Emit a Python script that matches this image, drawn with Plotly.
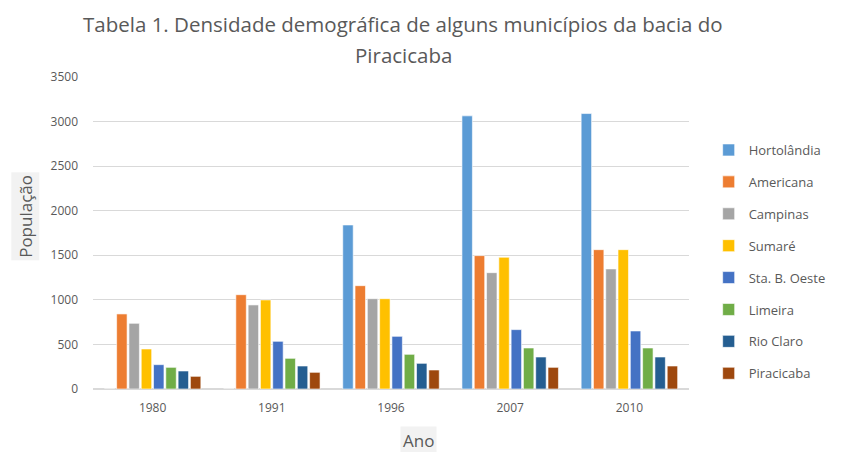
import plotly.graph_objects as go

anos = ["1980", "1991", "1996", "2007", "2010"]
municipios = ["Hortolândia", "Americana", "Campinas", "Sumaré", "Sta. B. Oeste", "Limeira", "Rio Claro", "Piracicaba"]
hortolandia = [0, 0, 1840, 3064, 3090]
americana = [842, 1058, 1159, 1496, 1563]
campinas = [737, 943, 1013, 1305, 1347]
sumare = [449, 999, 1013, 1478, 1563]
sta_b_oeste = [273, 535, 591, 666, 651]
limeira = [243, 344, 389, 460, 460]
rio_claro = [202, 258, 288, 359, 359]
piracicaba = [142, 187, 213, 243, 258]
series = [hortolandia, americana, campinas, sumare, sta_b_oeste, limeira, rio_claro, piracicaba]
cores = ["#5B9BD5", "#ED7D31", "#A5A5A5", "#FFC000", "#4472C4", "#70AD47", "#255E91", "#9E480E"]

FONT = "Open Sans"
GREY = "#595959"
titulo_l1 = "Tabela 1. Densidade demográfica de alguns municípios da bacia do"
titulo_l2 = "Piracicaba"

fig = go.Figure()
for nome, vals, cor in zip(municipios, series, cores):
    fig.add_trace(go.Bar(
        name=nome, x=anos, y=vals, legendgroup=nome,
        marker=dict(color=cor, line=dict(color="white", width=0.6)),
    ))

def py(pix):
    return (389 - pix) / 312

fig.update_layout(
    width=843, height=452,
    paper_bgcolor="white", plot_bgcolor="white",
    margin=dict(l=93, r=151, t=77, b=63),
    barmode="group", bargap=0.175, bargroupgap=0.15,
    font=dict(family=FONT, color=GREY, size=12),
    xaxis=dict(type="category", showgrid=False, showline=True, linecolor="#d9d9d9",
               ticks="", ticklabelstandoff=8, tickfont=dict(size=12, color=GREY)),
    yaxis=dict(range=[0, 3500], dtick=500, showgrid=True, gridcolor="#d9d9d9",
               zeroline=True, zerolinecolor="#d9d9d9", ticks="", ticklabelstandoff=14,
               tickfont=dict(size=12, color=GREY)),
    legend=dict(x=1.033, xanchor="left", y=0.407, yanchor="middle",
                font=dict(size=13, color=GREY), tracegroupgap=12),
    annotations=[
        dict(text=titulo_l1, xref="paper", yref="paper", x=(405 - 93) / 599, y=py(24),
             xanchor="center", yanchor="middle", showarrow=False,
             font=dict(size=20.5, color=GREY, family=FONT)),
        dict(text=titulo_l2, xref="paper", yref="paper", x=(405 - 93) / 599, y=py(55),
             xanchor="center", yanchor="middle", showarrow=False,
             font=dict(size=20.5, color=GREY, family=FONT)),
        dict(text="População", xref="paper", yref="paper", x=(24.5 - 93) / 599, y=py(216),
             textangle=-90, showarrow=False, bgcolor="#f2f2f2",
             font=dict(size=17, color=GREY, family=FONT), borderpad=2,
             xanchor="center", yanchor="middle"),
        dict(text="Ano", xref="paper", yref="paper", x=(420 - 93) / 599, y=py(440),
             showarrow=False, bgcolor="#f2f2f2", xanchor="center", yanchor="middle",
             font=dict(size=17, color=GREY, family=FONT), borderpad=2),
    ],
)

fig.write_html("out.html", config={"displayModeBar": False},
               post_script="document.body.style.margin='0';")
